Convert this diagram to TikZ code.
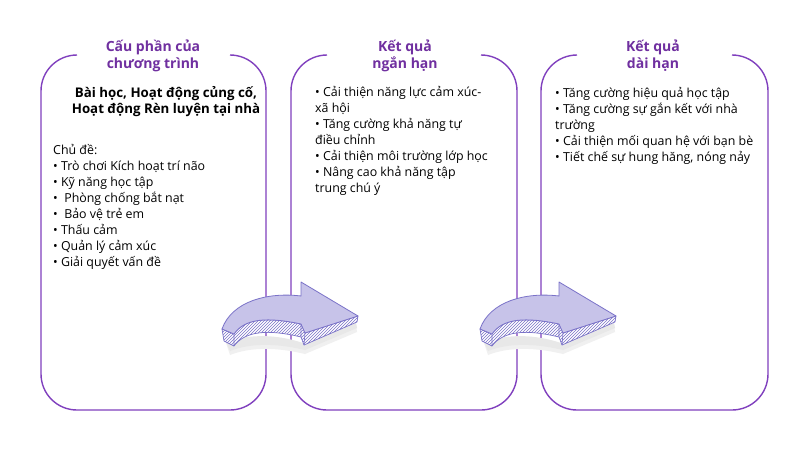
\documentclass[tikz,border=0pt]{standalone}
\usepackage{fontspec}
\setmainfont{Open Sans}
\usetikzlibrary{patterns}
\definecolor{boxpurple}{RGB}{128,64,190}
\definecolor{titlepurple}{RGB}{112,48,160}
\definecolor{arrowfill}{RGB}{199,195,233}
\definecolor{arrowline}{RGB}{122,114,200}
\newcommand\fstrut{\rule{0pt}{12pt}}
\newcommand\tstrut{\rule{0pt}{13pt}}
\newcommand\curvedarrow[1]{%
\begin{scope}[shift={(#1,0)}]
  % soft shadow
  \fill[black!6] (226,343) .. controls (250,336) and (276,336) .. (303,345) -- (356,324) -- (357,332) -- (305,354) .. controls (276,347) and (250,347) .. (230,355) -- cycle;
  \fill[black!9] (226,342) .. controls (250,334) and (276,334) .. (303,343) -- (356,323) -- (357,328) -- (305,350) .. controls (276,343) and (250,343) .. (230,351) -- cycle;
  % side faces
  \path[sideface] (222,329) -- (224,341) -- (234,346) .. controls (245,331) and (268,329) .. (301,337) -- (304,345) -- (357,322) -- (358,316) -- (305,333) -- (301,324) .. controls (268,317) and (245,318) .. (234,334) -- cycle;
  \draw[arrowedge] (234,334) -- (234,346) (301,324) -- (301,337) (305,333) -- (304,345);
  % top face
  \path[topface] (222,329) .. controls (232,301) and (268,292) .. (301,296) -- (301,282) -- (358,316) -- (305,333) -- (301,324) .. controls (268,317) and (245,318) .. (234,334) -- cycle;
\end{scope}}
\begin{document}
\begin{tikzpicture}[x=1pt,y=-1pt,
  boxline/.style={draw=boxpurple, line width=1.4pt, rounded corners=36pt},
  titletext/.style={font=\fontsize{14}{17}\selectfont\bfseries, text=titlepurple, align=center, inner sep=0pt, anchor=north},
  boldtext/.style={font=\fontsize{13.3}{16}\selectfont\bfseries, align=center, inner sep=0pt, anchor=north},
  bodytext/.style={font=\fontsize{12.4}{16}\selectfont, align=left, inner sep=0pt, anchor=north west},
  sideface/.style={draw=arrowline, line width=0.7pt, line join=round, preaction={fill=white}, pattern=north east lines, pattern color=arrowline},
  arrowedge/.style={draw=arrowline, line width=0.6pt},
  topface/.style={draw=arrowline, line width=0.8pt, line join=round, fill=arrowfill}
]
\useasboundingbox (0,0) rectangle (800,450);
\fill[white] (0,0) rectangle (800,450);

% boxes (top straight edge left open for the titles)
\draw[boxline] (77,55) -- (41,55) -- (41,410) -- (266,410) -- (266,55) -- (230,55);
\draw[boxline] (327,55) -- (291,55) -- (291,410) -- (517,410) -- (517,55) -- (481,55);
\draw[boxline] (577,55) -- (541,55) -- (541,410) -- (768,410) -- (768,55) -- (732,55);

% titles
\node[titletext] (t1) at (153,38) {\tstrut Cấu phần của\\chương trình};
\node[titletext] (t2) at (405,38) {\tstrut Kết quả\\ngắn hạn};
\node[titletext] (t3) at (653,38) {\tstrut Kết quả\\dài hạn};

% box 1
\node[boldtext] (b1) at (166,85) {\fstrut Bài học, Hoạt động củng cố,\\Hoạt động Rèn luyện tại nhà};
\node[bodytext] (l1) at (53,142) {\fstrut Chủ đề:\\
• Trò chơi Kích hoạt trí não\\
• Kỹ năng học tập\\
•\ \ Phòng chống bắt nạt\\
•\ \ Bảo vệ trẻ em\\
• Thấu cảm\\
• Quản lý cảm xúc\\
• Giải quyết vấn đề};

% box 2
\node[bodytext] (l2) at (315,84) {\fstrut • Cải thiện năng lực cảm xúc-\\
xã hội\\
• Tăng cường khả năng tự\\
điều chỉnh\\
• Cải thiện môi trường lớp học\\
• Nâng cao khả năng tập\\
trung chú ý};

% box 3
\node[bodytext] (l3) at (555,85) {\fstrut • Tăng cường hiệu quả học tập\\
• Tăng cường sự gắn kết với nhà\\
trường\\
• Cải thiện mối quan hệ với bạn bè\\
• Tiết chế sự hung hăng, nóng nảy};

% arrows
\curvedarrow{0}
\curvedarrow{258}
\end{tikzpicture}
\end{document}
